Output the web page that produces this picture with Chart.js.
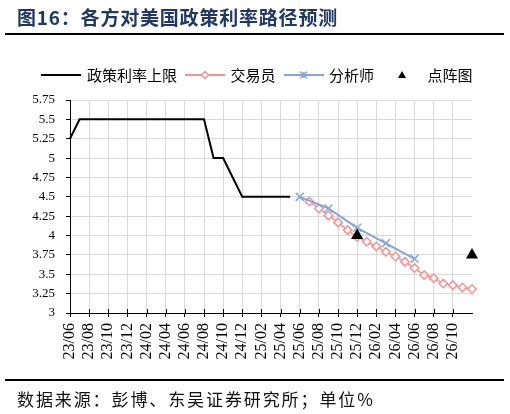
<!DOCTYPE html>
<html lang="zh-CN">
<head>
<meta charset="utf-8">
<script src="https://cdn.jsdelivr.net/npm/chart.js@4.4.1/dist/chart.umd.min.js"></script>
<style>
  html, body { margin: 0; padding: 0; background: #fff; }
  #wrap { position: relative; width: 510px; height: 414px; overflow: hidden; }
  #chart { position: absolute; left: 0; top: 0; }
  .title {
    position: absolute; left: 17px; top: 3px;
    font-family: "Noto Sans CJK SC", sans-serif; font-weight: 700;
    font-size: 19px; color: #1F3864; letter-spacing: 0.8px; white-space: nowrap;
  }
  .rule { position: absolute; left: 5px; width: 499px; height: 2px; background: #000; }
  .source {
    position: absolute; left: 17px; top: 386px;
    font-family: "Noto Sans CJK SC", sans-serif; font-size: 17px;
    color: #111; letter-spacing: 1.9px; white-space: nowrap;
  }
</style>
</head>
<body>
<div id="wrap">
  <canvas id="chart" width="510" height="414"></canvas>
  <div class="title">图16：各方对美国政策利率路径预测</div>
  <div class="rule" style="top:33px"></div>
  <div class="rule" style="top:379px"></div>
  <div class="source">数据来源：彭博、东吴证券研究所；单位%</div>
</div>
<script>
// monthly category axis, 23/06 .. 26/12
const months = [
  '23/06', '23/07', '23/08', '23/09', '23/10', '23/11', '23/12',
  '24/01', '24/02', '24/03', '24/04', '24/05', '24/06', '24/07', '24/08', '24/09', '24/10', '24/11', '24/12',
  '25/01', '25/02', '25/03', '25/04', '25/05', '25/06', '25/07', '25/08', '25/09', '25/10', '25/11', '25/12',
  '26/01', '26/02', '26/03', '26/04', '26/05', '26/06', '26/07', '26/08', '26/09', '26/10', '26/11', '26/12'
];

// 政策利率上限 (actual upper bound)
const policyMonths = months.slice(0, 24);
const policyRates = [
  5.25, 5.5, 5.5, 5.5, 5.5, 5.5, 5.5, 5.5, 5.5, 5.5, 5.5, 5.5, 5.5, 5.5, 5.5,
  5.0, 5.0, 4.75, 4.5, 4.5, 4.5, 4.5, 4.5, 4.5
];

// 交易员 (market pricing)
const traderMonths = months.slice(25);
const traderRates = [
  4.44, 4.35, 4.26, 4.17, 4.07, 3.98, 3.92, 3.86, 3.79,
  3.73, 3.66, 3.58, 3.49, 3.45, 3.38, 3.36, 3.33, 3.31
];

// 分析师 (quarterly consensus)
const analystMonths = ['25/06', '25/09', '25/12', '26/03', '26/06'];
const analystRates = [4.5, 4.35, 4.1, 3.9, 3.7];

// 点阵图 (dot plot upper bound)
const dotMonths = ['25/12', '26/12'];
const dotRates = [4.0, 3.75];

const PINK = '#FF9090';
const BLUE = '#84A6DC';
const GRID = '#D9D9D9';
const LAST_LABEL = 40; // Excel stops labelling at 26/10

const toPoints = (xs, ys) => xs.map((x, i) => ({ x: x, y: ys[i] }));

/**
 * Small canvases used as legend symbols (line + marker)
 */
function legendIcon(kind) {
  const c = document.createElement('canvas');
  c.width = 40;
  c.height = 14;
  const g = c.getContext('2d');
  const cx = 20, cy = 7;
  if (kind !== 'triangle') {
    g.strokeStyle = kind === 'policy' ? '#000' : (kind === 'trader' ? PINK : BLUE);
    g.lineWidth = 2;
    g.beginPath();
    g.moveTo(0, cy);
    g.lineTo(40, cy);
    g.stroke();
  }
  if (kind === 'trader') {
    g.fillStyle = '#fff';
    g.lineWidth = 1.5;
    g.beginPath();
    g.moveTo(cx, cy - 3.5);
    g.lineTo(cx + 3.5, cy);
    g.lineTo(cx, cy + 3.5);
    g.lineTo(cx - 3.5, cy);
    g.closePath();
    g.fill();
    g.stroke();
  } else if (kind === 'analyst') {
    g.lineWidth = 1.5;
    g.beginPath();
    g.moveTo(cx - 3.5, cy - 3.5); g.lineTo(cx + 3.5, cy + 3.5);
    g.moveTo(cx + 3.5, cy - 3.5); g.lineTo(cx - 3.5, cy + 3.5);
    g.moveTo(cx, cy - 3); g.lineTo(cx, cy + 3);
    g.stroke();
  } else if (kind === 'triangle') {
    g.fillStyle = '#000';
    g.beginPath();
    g.moveTo(cx, cy - 4);
    g.lineTo(cx + 4, cy + 3);
    g.lineTo(cx - 4, cy + 3);
    g.closePath();
    g.fill();
  }
  return c;
}

const legendItems = [
  { text: '政策利率上限', icon: legendIcon('policy'), datasetIndex: 0 },
  { text: '交易员', icon: legendIcon('trader'), datasetIndex: 1 },
  { text: '分析师', icon: legendIcon('analyst'), datasetIndex: 2 },
  { text: '点阵图', icon: legendIcon('triangle'), datasetIndex: 3 }
];

// push the plot area a little below the legend, and centre the legend on the page
const legendGap = {
  id: 'legendGap',
  beforeInit(chart) {
    const fit = chart.legend.fit;
    chart.legend.fit = function() {
      fit.bind(chart.legend)();
      this.height += 7.5;
    };
  },
  afterLayout(chart) {
    chart.legend.left += 22;
    chart.legend.right += 22;
  }
};

// Excel style cross ticks: extend the x tick marks above the axis line too
const crossTicks = {
  id: 'crossTicks',
  afterDraw(chart) {
    const x = chart.scales.x;
    const ctx = chart.ctx;
    ctx.save();
    ctx.strokeStyle = '#000';
    ctx.lineWidth = 1;
    ctx.beginPath();
    x.ticks.forEach((t, i) => {
      if (!showTick(i)) return;
      const px = Math.round(x.getPixelForTick(i)) + 0.5;
      ctx.moveTo(px, x.top - 4);
      ctx.lineTo(px, x.top);
    });
    ctx.stroke();
    ctx.restore();
  }
};

const showTick = (i) => i % 2 === 0 && i <= LAST_LABEL;

new Chart(document.getElementById('chart'), {
  type: 'line',
  data: {
    labels: months,
    datasets: [
      {
        label: '政策利率上限',
        data: toPoints(policyMonths, policyRates),
        borderColor: '#000',
        borderWidth: 2,
        pointRadius: 0,
        tension: 0,
        order: 3,
        clip: false
      },
      {
        label: '交易员',
        data: toPoints(traderMonths, traderRates),
        borderColor: PINK,
        borderWidth: 1.5,
        pointStyle: 'rectRot',
        pointRadius: 4.2,
        pointBorderWidth: 1.5,
        pointBackgroundColor: '#fff',
        pointBorderColor: PINK,
        tension: 0,
        order: 2,
        clip: false
      },
      {
        label: '分析师',
        data: toPoints(analystMonths, analystRates),
        borderColor: BLUE,
        borderWidth: 2,
        pointStyle: 'crossRot',
        pointRadius: 5.7,
        pointBorderWidth: 1.5,
        pointBorderColor: BLUE,
        tension: 0,
        order: 1,
        clip: false
      },
      {
        label: '点阵图',
        data: toPoints(dotMonths, dotRates),
        showLine: false,
        pointStyle: 'triangle',
        pointRadius: 7,
        pointBackgroundColor: '#000',
        pointBorderColor: '#000',
        pointBorderWidth: 0,
        order: 0,
        clip: false
      }
    ]
  },
  options: {
    responsive: false,
    animation: false,
    layout: {
      padding: { top: 57.5, right: 38, bottom: 41, left: 0 }
    },
    plugins: {
      legend: {
        display: true,
        position: 'top',
        labels: {
          usePointStyle: true,
          pointStyleWidth: 36,
          padding: 10,
          color: '#000',
          font: { family: '"Noto Sans CJK SC", sans-serif', size: 15 },
          generateLabels: () => legendItems.map(item => ({
            text: item.text,
            pointStyle: item.icon,
            fillStyle: 'transparent',
            strokeStyle: 'transparent',
            lineWidth: 0,
            fontColor: '#000',
            hidden: false,
            datasetIndex: item.datasetIndex
          }))
        }
      },
      tooltip: { enabled: false }
    },
    scales: {
      x: {
        type: 'category',
        offset: false,
        border: { color: '#000', width: 1 },
        grid: {
          color: (ctx) => showTick(ctx.index) ? GRID : 'transparent',
          tickColor: (ctx) => showTick(ctx.index) ? '#000' : 'transparent',
          tickLength: 4,
          lineWidth: 1
        },
        ticks: {
          autoSkip: false,
          minRotation: 90,
          maxRotation: 90,
          padding: 6,
          color: '#000',
          font: { family: '"Liberation Serif", serif', size: 16 },
          callback: function(value, index) {
            return showTick(index) ? months[index] : '';
          }
        },
        afterFit: (scale) => { scale.height = 60; }
      },
      y: {
        min: 3,
        max: 5.75,
        border: { color: '#000', width: 1 },
        grid: {
          color: GRID,
          tickColor: '#000',
          tickLength: 4,
          lineWidth: 1
        },
        ticks: {
          stepSize: 0.25,
          padding: 11,
          color: '#000',
          font: { family: '"Liberation Serif", serif', size: 13 },
          callback: (value) => String(Number(value.toFixed(2)))
        },
        afterFit: (scale) => { scale.width = 70; }
      }
    }
  },
  plugins: [legendGap, crossTicks]
});
</script>
</body>
</html>
